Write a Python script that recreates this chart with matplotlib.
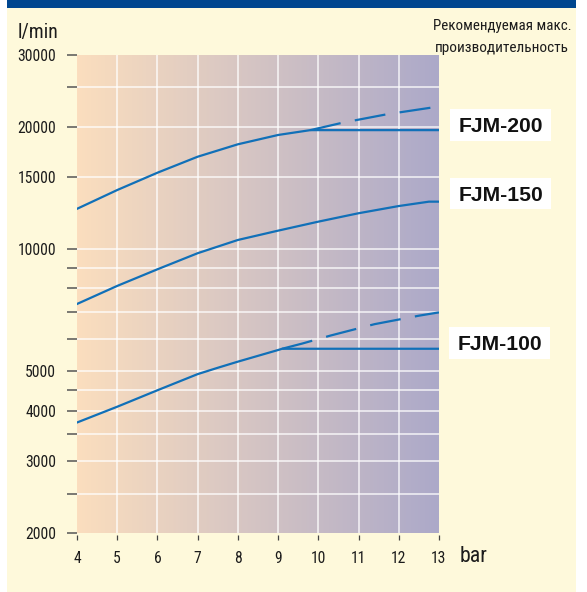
import numpy as np
import matplotlib
matplotlib.use("Agg")
import matplotlib.pyplot as plt
from matplotlib.patches import Rectangle
from matplotlib.ticker import FixedLocator, FixedFormatter, NullFormatter
from matplotlib import font_manager as fm

# ---------------- data ----------------
series_names = ["FJM-200", "FJM-150", "FJM-100"]

fjm200_x = [4, 5, 6, 7, 8, 9, 9.8, 13]
fjm200_y = [12550, 13960, 15400, 16860, 18090, 19070, 19600, 19600]
fjm200_dash_x = [9.8, 10.6, 11.7, 12.8, 13]
fjm200_dash_y = [19600, 20440, 21440, 22260, 22420]

fjm150_x = [4, 5, 6, 7, 8, 9, 10, 11, 12, 12.75, 13]
fjm150_y = [7320, 8110, 8910, 9760, 10520, 11090, 11670, 12240, 12750, 13070, 13070]

fjm100_x = [4, 5, 6, 7, 7.5, 8, 9, 9.1, 13]
fjm100_y = [3740, 4090, 4490, 4920, 5100, 5280, 5640, 5680, 5680]
fjm100_dash_x = [9.1, 9.6, 10.3, 11.4, 12.5, 13]
fjm100_dash_y = [5680, 5850, 6120, 6530, 6850, 6980]

x_ticks = [4, 5, 6, 7, 8, 9, 10, 11, 12, 13]
y_major = [2000, 3000, 4000, 5000, 10000, 15000, 20000, 30000]
y_major_labels = ["2000", "3000", "4000", "5000", "10000", "15000", "20000", "30000"]
y_minor = [2500, 3500, 4500, 6000, 7000, 8000, 9000, 25000]

x_unit = "bar"
y_unit = "l/min"
note_lines = ["Рекомендуемая макс.", "производительность"]

# ---------------- fonts ----------------
def pick_condensed():
    prefs = ["Roboto Condensed", "DejaVu Sans", "Noto Sans", "Open Sans", "Liberation Sans Narrow"]
    cands = []
    for f in fm.fontManager.ttflist:
        st = str(f.stretch).lower()
        nm = (f.name + " " + f.fname).lower()
        if ("condensed" in st or "condensed" in nm or "narrow" in nm) \
                and f.style == "normal" and f.weight in (400, "normal", "regular", "book") \
                and "semi" not in nm and "extra" not in nm and "ultra" not in nm:
            cands.append(f)
    for p in prefs:
        for f in cands:
            if f.name.lower().startswith(p.lower()):
                return f.fname
    if cands:
        return cands[0].fname
    return None

cond_path = pick_condensed()

def narrow_fp(size):
    if cond_path:
        return fm.FontProperties(fname=cond_path, size=size)
    return fm.FontProperties(family="DejaVu Sans", size=size)

# ---------------- style ----------------
W, H = 587, 592
line_col = "#1170b8"
panel_col = "#fef9db"
band_col = "#00468f"
txt_col = "#1c1c1c"

def fx(px):
    return px / W

def fy(py):
    return 1 - py / H

fig = plt.figure(figsize=(W / 100, H / 100), dpi=100)
fig.patch.set_facecolor("white")
renderer = fig.canvas.get_renderer()

def fit_width(txt, target_px, max_size):
    w = txt.get_window_extent(renderer).width
    if w > 0:
        txt.set_fontsize(min(max_size, txt.get_fontsize() * target_px / w))

# outer panel and top band
fig.patches.append(Rectangle((fx(7), 0), fx(576) - fx(7), fy(8), transform=fig.transFigure,
                             facecolor=panel_col, edgecolor="none", zorder=-10))
fig.patches.append(Rectangle((fx(7), fy(8)), fx(576) - fx(7), 1 - fy(8), transform=fig.transFigure,
                             facecolor=band_col, edgecolor="none", zorder=-10))

ax = fig.add_axes([fx(77), fy(533), fx(439) - fx(77), fy(55) - fy(533)])
ax.set_yscale("log")
ax.set_xlim(4, 13)
ax.set_ylim(2000, 30000)
ax.patch.set_alpha(0)

# gradient background
c0 = np.array([251, 222, 190]) / 255
c1 = np.array([172, 169, 201]) / 255
t = np.linspace(0, 1, 256)
grad = (c0[None, :] * (1 - t[:, None]) + c1[None, :] * t[:, None])[None, :, :]
ax.imshow(grad, extent=[0, 1, 0, 1], transform=ax.transAxes, aspect="auto",
          interpolation="bilinear", zorder=0)

# grid lines (interior only)
for xv in x_ticks[1:-1]:
    ax.axvline(xv, color="white", lw=1.1, alpha=0.85, zorder=1)
for yv in sorted(y_major + y_minor)[1:-1]:
    ax.axhline(yv, color="white", lw=1.1, alpha=0.85, zorder=1)

# curves
ax.plot(fjm200_x, fjm200_y, color=line_col, lw=1.6, zorder=3)
ax.plot(fjm200_dash_x, fjm200_dash_y, color=line_col, lw=1.6, zorder=3, dashes=(14, 6.5))
ax.plot(fjm150_x, fjm150_y, color=line_col, lw=1.6, zorder=3)
ax.plot(fjm100_x, fjm100_y, color=line_col, lw=1.6, zorder=3)
ax.plot(fjm100_dash_x, fjm100_dash_y, color=line_col, lw=1.6, zorder=3, dashes=(14, 6.5))

# spines
for s in ax.spines.values():
    s.set_color("none")
ax.spines["bottom"].set_position(("outward", 1.5))

# tick label size: fit "30000" to ~38 px
probe = fig.text(0, 0, "30000", fontproperties=narrow_fp(12))
fit_width(probe, 38, 12.5)
tick_size = probe.get_fontsize()
probe.remove()

ax.xaxis.set_major_locator(FixedLocator(x_ticks))
ax.set_xticklabels([str(v) for v in x_ticks])
ax.xaxis.set_minor_locator(FixedLocator([]))
ax.yaxis.set_major_locator(FixedLocator(y_major))
ax.yaxis.set_major_formatter(FixedFormatter(y_major_labels))
ax.yaxis.set_minor_locator(FixedLocator(y_minor))
ax.yaxis.set_minor_formatter(NullFormatter())

ax.tick_params(axis="x", which="major", direction="out", length=3.6, width=0.9,
               color="#444444", pad=8, labelcolor=txt_col)
ax.tick_params(axis="y", which="both", direction="out", length=7.5, width=1.1,
               color="#555555", pad=7.5, labelcolor=txt_col)
for lab in ax.get_xticklabels() + ax.get_yticklabels():
    lab.set_fontproperties(narrow_fp(tick_size))

# unit labels
t_ylab = fig.text(fx(18), fy(38), y_unit, fontproperties=narrow_fp(15), color=txt_col,
                  ha="left", va="baseline")
fit_width(t_ylab, 41, 17)
t_xlab = fig.text(fx(460), fy(562), x_unit, fontproperties=narrow_fp(15.5), color=txt_col,
                  ha="left", va="baseline")
fit_width(t_xlab, 28, 17)

# note at top right
n1 = fig.text(fx(502), fy(30), note_lines[0], fontproperties=narrow_fp(12.5), color=txt_col,
              ha="center", va="baseline")
fit_width(n1, 139, 13.5)
n2 = fig.text(fx(502), fy(52), note_lines[1], fontproperties=narrow_fp(12.5), color=txt_col,
              ha="center", va="baseline")
fit_width(n2, 134, 13.5)

# series label boxes
boxes = [(450, 109, 551, 141), (450, 178, 551, 209), (449, 327, 550, 359)]
for name, (x0, y0, x1, y1) in zip(series_names, boxes):
    fig.patches.append(Rectangle((fx(x0), fy(y1)), fx(x1) - fx(x0), fy(y0) - fy(y1),
                                 transform=fig.transFigure, facecolor="white",
                                 edgecolor="none", zorder=1))
    tb = fig.text(fx((x0 + x1) / 2), fy((y0 + y1) / 2), name,
                  family=["Liberation Sans", "DejaVu Sans"],
                  fontweight="bold", fontsize=15.3, color="#111111",
                  ha="center", va="center_baseline", zorder=2)
    fit_width(tb, 85, 16)

fig.savefig("out.png", dpi=100)
